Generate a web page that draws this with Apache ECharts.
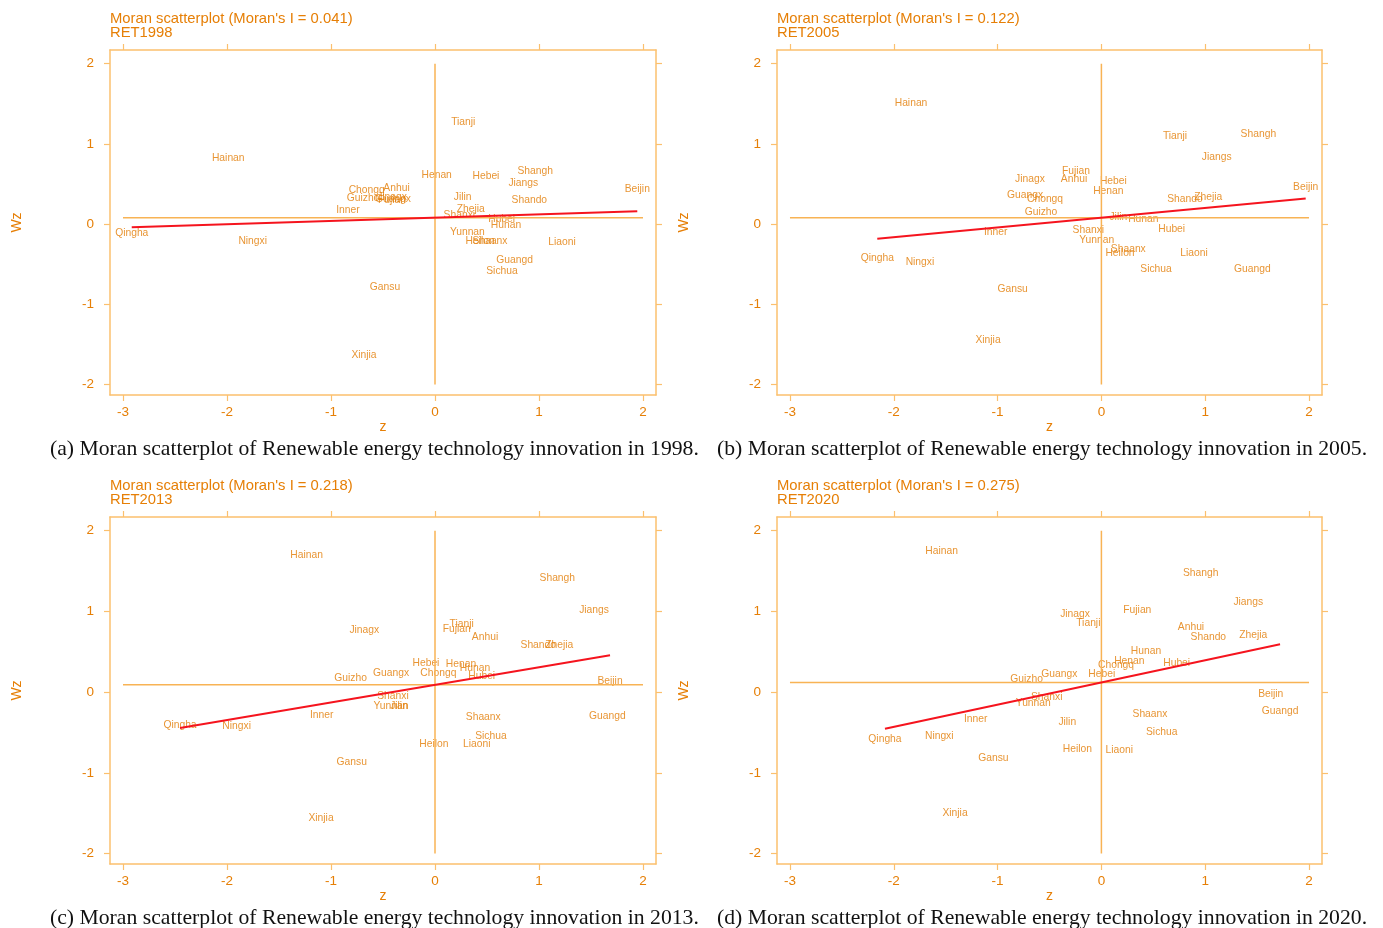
<!DOCTYPE html>
<html>
<head>
<meta charset="utf-8">
<title>Moran scatterplots</title>
<script src="https://cdn.jsdelivr.net/npm/echarts@6/dist/echarts.min.js"></script>
<style>
    html, body { margin: 0; padding: 0; background: #fff; }
    #main { width: 1383px; height: 928px; }
</style>
</head>
<body>
<div id="main"></div>
<script>
    // province labels (Stata keeps 6 chars)
    var provinces = ['Beijin', 'Tianji', 'Hebei', 'Shanxi', 'Inner', 'Liaoni', 'Jilin', 'Heilon',
        'Shangh', 'Jiangs', 'Zhejia', 'Anhui', 'Fujian', 'Jinagx', 'Shando', 'Henan', 'Hubei',
        'Hunan', 'Guangd', 'Guangx', 'Hainan', 'Chongq', 'Sichua', 'Guizho', 'Yunnan', 'Shaanx',
        'Gansu', 'Qingha', 'Ningxi', 'Xinjia'];

    var z1998 = [1.945, 0.272, 0.490, 0.234, -0.837, 1.221, 0.266, 0.433, 0.964, 0.849, 0.343, -0.370,
        -0.413, -0.413, 0.907, 0.016, 0.641, 0.683, 0.766, -0.404, -1.988, -0.657, 0.644, -0.692,
        0.311, 0.529, -0.481, -2.916, -1.753, -0.683];
    var wz1998 = [0.430, 1.269, 0.592, 0.115, 0.172, -0.222, 0.339, -0.218, 0.654, 0.513, 0.189, 0.451,
        0.293, 0.330, 0.297, 0.604, 0.056, -0.010, -0.451, 0.312, 0.816, 0.421, -0.592, 0.318,
        -0.102, -0.218, -0.788, -0.118, -0.209, -1.639];

    var z2005 = [1.968, 0.709, 0.115, -0.126, -1.018, 0.892, 0.163, 0.179, 1.512, 1.111, 1.030, -0.264,
        -0.245, -0.688, 0.805, 0.067, 0.677, 0.404, 1.454, -0.736, -1.834, -0.543, 0.526, -0.582,
        -0.045, 0.259, -0.855, -2.159, -1.748, -1.092];
    var wz2005 = [0.464, 1.094, 0.533, -0.081, -0.097, -0.368, 0.085, -0.368, 1.119, 0.829, 0.339, 0.555,
        0.654, 0.563, 0.314, 0.409, -0.060, 0.056, -0.558, 0.359, 1.502, 0.305, -0.567, 0.152,
        -0.202, -0.309, -0.816, -0.421, -0.476, -1.452];

    var z2013 = [1.683, 0.257, -0.087, -0.404, -1.089, 0.401, -0.346, -0.010, 1.176, 1.529, 1.195, 0.481,
        0.209, -0.680, 0.993, 0.250, 0.449, 0.385, 1.657, -0.423, -1.234, 0.032, 0.538, -0.811,
        -0.423, 0.464, -0.801, -2.452, -1.907, -1.096];
    var wz2013 = [0.130, 0.845, 0.357, -0.056, -0.282, -0.641, -0.180, -0.641, 1.409, 1.018, 0.585, 0.679,
        0.774, 0.770, 0.585, 0.341, 0.192, 0.300, -0.303, 0.241, 1.703, 0.241, -0.547, 0.176,
        -0.180, -0.312, -0.869, -0.406, -0.427, -1.567];

    var z2020 = [1.631, -0.126, 0.003, -0.527, -1.211, 0.172, -0.329, -0.232, 0.957, 1.415, 1.463, 0.863,
        0.346, -0.254, 1.030, 0.269, 0.725, 0.430, 1.721, -0.406, -1.539, 0.141, 0.581, -0.720,
        -0.656, 0.468, -1.041, -2.085, -1.562, -1.410];
    var wz2020 = [-0.022, 0.852, 0.225, -0.064, -0.337, -0.716, -0.374, -0.712, 1.471, 1.117, 0.703, 0.811,
        1.018, 0.960, 0.679, 0.381, 0.357, 0.505, -0.241, 0.225, 1.744, 0.328, -0.498, 0.163,
        -0.139, -0.279, -0.820, -0.580, -0.551, -1.505];

    var years = ['1998', '2005', '2013', '2020'];
    var moranI = [0.041, 0.122, 0.218, 0.275];
    var meanWz = [0.08, 0.08, 0.09, 0.12];     // horizontal reference line
    var tickValues = [-3, -2, -1, 0, 1, 2];
    var yTickValues = [-2, -1, 0, 1, 2];
    var captions = [
        '(a) Moran scatterplot of Renewable energy technology innovation in 1998.',
        '(b) Moran scatterplot of Renewable energy technology innovation in 2005.',
        '(c) Moran scatterplot of Renewable energy technology innovation in 2013.',
        '(d) Moran scatterplot of Renewable energy technology innovation in 2020.'
    ];

    var zData = [z1998, z2005, z2013, z2020];
    var wzData = [wz1998, wz2005, wz2013, wz2020];

    var orange = '#e67f06';
    var axisOrange = '#fbc06e';
    var lineOrange = '#f8b355';

    // panel frames
    var grids = [
        { left: 110, top: 50, width: 546, height: 345 },
        { left: 777, top: 50, width: 545, height: 345 },
        { left: 110, top: 517, width: 546, height: 347 },
        { left: 777, top: 517, width: 545, height: 347 }
    ];

    var option = {
        animation: false,
        backgroundColor: '#fff',
        textStyle: { fontFamily: 'Liberation Sans' },
        title: [],
        grid: grids,
        xAxis: [],
        yAxis: [],
        series: []
    };

    grids.forEach(function (g, i) {
        // panel heading
        option.title.push({
            text: 'Moran scatterplot (Moran\'s I = ' + moranI[i].toFixed(3) + ')\nRET' + years[i],
            left: g.left,
            top: g.top - 38,
            padding: 0,
            textStyle: { color: orange, fontSize: 14.8, fontWeight: 'normal', lineHeight: 14, fontFamily: 'Liberation Sans' }
        });
        // caption under panel
        option.title.push({
            text: captions[i],
            left: g.left - 60,
            top: g.top + g.height + 43,
            padding: 0,
            textStyle: { color: '#111', fontSize: 21.7, fontWeight: 'normal', fontFamily: 'Liberation Serif' }
        });

        var tickStyle = { show: true, length: 6, lineStyle: { color: axisOrange, width: 1.2 } };
        var lineStyle = { show: true, onZero: false, lineStyle: { color: axisOrange, width: 1.5 } };

        option.xAxis.push({
            gridIndex: i, type: 'value', min: -3.125, max: 2.125, position: 'bottom',
            name: 'z', nameLocation: 'middle', nameGap: 25,
            nameTextStyle: { color: orange, fontSize: 14 },
            axisLine: lineStyle,
            axisTick: Object.assign({ customValues: tickValues }, tickStyle),
            axisLabel: { customValues: tickValues, color: orange, fontSize: 13.5, margin: 10 },
            splitLine: { show: false }
        });
        option.xAxis.push({
            gridIndex: i, type: 'value', min: -3.125, max: 2.125, position: 'top',
            axisLine: lineStyle,
            axisTick: Object.assign({ customValues: tickValues }, tickStyle),
            axisLabel: { show: false },
            splitLine: { show: false }
        });
        option.yAxis.push({
            gridIndex: i, type: 'value', min: -2.13, max: 2.17, position: 'left',
            name: 'Wz', nameLocation: 'middle', nameGap: 86,
            nameTextStyle: { color: orange, fontSize: 14 },
            axisLine: lineStyle,
            axisTick: Object.assign({ customValues: yTickValues }, tickStyle),
            axisLabel: { customValues: yTickValues, color: orange, fontSize: 13.5, margin: 16 },
            splitLine: { show: false }
        });
        option.yAxis.push({
            gridIndex: i, type: 'value', min: -2.13, max: 2.17, position: 'right',
            axisLine: lineStyle,
            axisTick: Object.assign({ customValues: yTickValues }, tickStyle),
            axisLabel: { show: false },
            splitLine: { show: false }
        });

        var xi = i * 2, yi = i * 2;
        var z = zData[i], wz = wzData[i];

        // reference lines
        option.series.push({
            type: 'line', xAxisIndex: xi, yAxisIndex: yi, symbol: 'none', silent: true,
            lineStyle: { color: lineOrange, width: 1.5 },
            data: [[-3, meanWz[i]], [2, meanWz[i]]]
        });
        option.series.push({
            type: 'line', xAxisIndex: xi, yAxisIndex: yi, symbol: 'none', silent: true,
            lineStyle: { color: lineOrange, width: 1.5 },
            data: [[0, -2], [0, 2]]
        });

        // fitted line, slope = Moran's I
        var zmin = Math.min.apply(null, z), zmax = Math.max.apply(null, z);
        option.series.push({
            type: 'line', xAxisIndex: xi, yAxisIndex: yi, symbol: 'none', silent: true,
            lineStyle: { color: '#f5141e', width: 2 },
            data: [[zmin, meanWz[i] + moranI[i] * zmin], [zmax, meanWz[i] + moranI[i] * zmax]]
        });

        // province labels centred on each point
        option.series.push({
            type: 'scatter', xAxisIndex: xi, yAxisIndex: yi,
            symbolSize: 1,
            itemStyle: { color: 'rgba(0,0,0,0)' },
            label: {
                show: true, position: 'inside', color: '#e27a00', fontSize: 10.3,
                formatter: function (p) { return p.value[2]; }
            },
            data: provinces.map(function (name, k) { return [z[k], wz[k], name]; })
        });
    });

    var chart = echarts.init(document.getElementById('main'));
    chart.setOption(option);
</script>
</body>
</html>
